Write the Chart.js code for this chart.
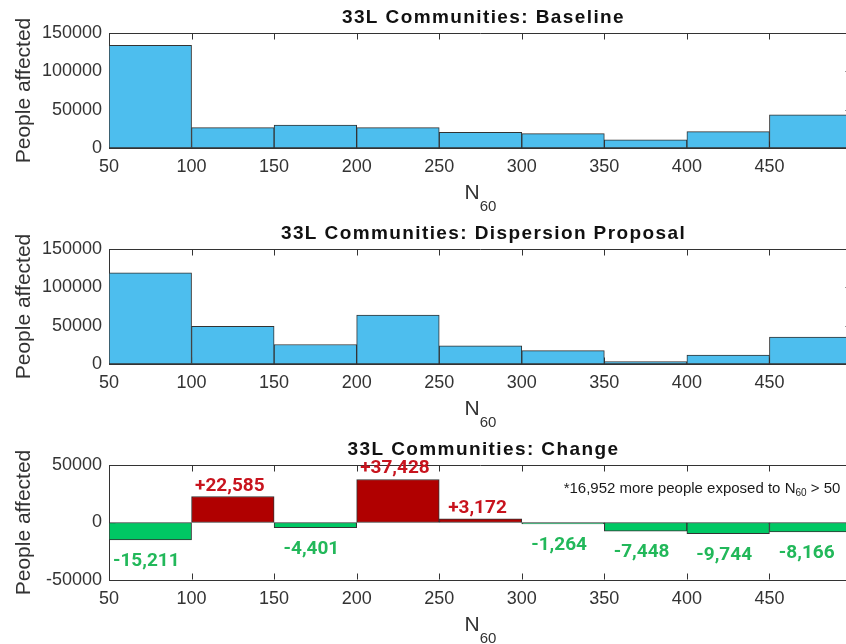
<!DOCTYPE html>
<html>
<head>
<meta charset="utf-8">
<script src="https://cdn.jsdelivr.net/npm/chart.js@4.4.1/dist/chart.umd.min.js"></script>
<style>
    html, body { margin: 0; padding: 0; background: #fff; }
    body { width: 846px; height: 644px; overflow: hidden; position: relative; }
    canvas { position: absolute; left: 0; }
</style>
</head>
<body>
<canvas id="chartBaseline" width="860" height="216" style="top:0px"></canvas>
<canvas id="chartProposal" width="860" height="216" style="top:216px"></canvas>
<canvas id="chartChange" width="860" height="216" style="top:432px"></canvas>
<script>
// bins of N60 (edges) and the x tick labels
const binEdges = [50, 100, 150, 200, 250, 300, 350, 400, 450, 500];
const xTickValues = [50, 100, 150, 200, 250, 300, 350, 400, 450];

// people affected per bin
const baselinePeople = [134000, 26600, 29800, 26500, 20500, 18800, 10500, 21400, 43300];
const proposalPeople = [118800, 49200, 25400, 63900, 23700, 17500, 3100, 11700, 35100];
const changePeople = [-15211, 22585, -4401, 37428, 3172, -1264, -7448, -9744, -8166];

// y tick labels
const countTicks = [0, 50000, 100000, 150000];
const changeTicks = [-50000, 0, 50000];

const panelTitles = [
    '33L Communities: Baseline',
    '33L Communities: Dispersion Proposal',
    '33L Communities: Change'
];
const noteParts = ['*16,952 more people exposed to ', 'N', '60', ' > 50'];

const axisColor = '#333333';
const textColor = '#333333';
const blue = '#4DBEEE';
const barRed = '#B00000';
const barGreen = '#00C864';
const labelRed = '#C8141E';
const labelGreen = '#22B85A';
const fontFamily = '"Liberation Sans", Arial, Helvetica, sans-serif';

function binPoints(values) {
    return values.map((v, i) => ({ x: (binEdges[i] + binEdges[i + 1]) / 2, y: v }));
}

// box, inward ticks, title and N60 label like a MATLAB axes
const matlabAxes = {
    id: 'matlabAxes',
    beforeDatasetsDraw(chart) {
        const { ctx, chartArea: a, scales: { x, y } } = chart;
        ctx.save();
        ctx.strokeStyle = axisColor;
        ctx.lineWidth = 1;
        ctx.beginPath();
        const top = Math.round(a.top) + 0.5;
        const bottom = Math.round(a.bottom) - 0.5;
        const left = Math.round(a.left) + 0.5;
        const right = Math.round(a.right) - 0.5;
        ctx.moveTo(a.left, top);
        ctx.lineTo(a.right, top);
        ctx.moveTo(right, a.top);
        ctx.lineTo(right, a.bottom);
        x.ticks.forEach(t => {
            if (t.value <= x.min || t.value >= x.max) return;
            const px = Math.round(x.getPixelForValue(t.value)) + 0.5;
            ctx.moveTo(px, top);
            ctx.lineTo(px, top + 6);
            ctx.moveTo(px, bottom);
            ctx.lineTo(px, bottom - 6);
        });
        y.ticks.forEach(t => {
            if (t.value <= y.min || t.value >= y.max) return;
            const py = Math.round(y.getPixelForValue(t.value)) + 0.5;
            ctx.moveTo(left, py);
            ctx.lineTo(left + 6, py);
            ctx.moveTo(right, py);
            ctx.lineTo(right - 6, py);
        });
        ctx.stroke();
        ctx.restore();
    },
    afterDraw(chart, args, opts) {
        const { ctx, chartArea: a } = chart;
        const cx = (a.left + a.right) / 2;
        ctx.save();
        ctx.fillStyle = '#111';
        ctx.font = 'bold 19px ' + fontFamily;
        ctx.letterSpacing = '1.4px';
        ctx.textAlign = 'center';
        ctx.textBaseline = 'middle';
        ctx.fillText(opts.title, cx + 3, a.top - 15);
        ctx.letterSpacing = '0px';

        // x label N with subscript 60
        ctx.fillStyle = textColor;
        ctx.textAlign = 'left';
        ctx.textBaseline = 'alphabetic';
        ctx.font = '21px ' + fontFamily;
        const wN = ctx.measureText('N').width;
        ctx.font = '15px ' + fontFamily;
        const wSub = ctx.measureText('60').width;
        const x0 = cx - (wN + wSub) / 2;
        ctx.font = '21px ' + fontFamily;
        ctx.fillText('N', x0, a.bottom + 51);
        ctx.font = '15px ' + fontFamily;
        ctx.fillText('60', x0 + wN, a.bottom + 63);
        ctx.restore();
    }
};

// value labels and note on the change panel
const changeLabels = {
    id: 'changeLabels',
    afterDatasetsDraw(chart) {
        const { ctx, chartArea: a } = chart;
        const meta = chart.getDatasetMeta(0);
        const values = chart.data.datasets[0].data;
        ctx.save();
        ctx.font = 'bold 19px Roboto, "DejaVu Sans", sans-serif';
        ctx.textAlign = 'center';
        ctx.textBaseline = 'alphabetic';
        meta.data.forEach((bar, i) => {
            const v = values[i].y;
            const txt = (v > 0 ? '+' : '-') + Math.abs(v).toLocaleString('en-US');
            if (v > 0) {
                ctx.fillStyle = labelRed;
                ctx.fillText(txt, bar.x - 3, bar.y - 6);
            } else {
                ctx.fillStyle = labelGreen;
                ctx.fillText(txt, bar.x - 4, bar.y + 26);
            }
        });

        // note, top right
        ctx.fillStyle = '#1a1a1a';
        ctx.textAlign = 'left';
        const big = '15px ' + fontFamily;
        const small = '10px ' + fontFamily;
        ctx.font = big;
        const w0 = ctx.measureText(noteParts[0]).width;
        const w1 = ctx.measureText(noteParts[1]).width;
        const w3 = ctx.measureText(noteParts[3]).width;
        ctx.font = small;
        const w2 = ctx.measureText(noteParts[2]).width;
        let nx = a.right - 150 - (w0 + w1 + w2 + w3) / 2;
        const ny = a.top + 28;
        ctx.font = big;
        ctx.fillText(noteParts[0], nx, ny); nx += w0;
        ctx.fillText(noteParts[1], nx, ny); nx += w1;
        ctx.font = small;
        ctx.fillText(noteParts[2], nx, ny + 3); nx += w2;
        ctx.font = big;
        ctx.fillText(noteParts[3], nx, ny);
        ctx.restore();
    }
};

function makePanel(canvasId, title, values, yTicks, colors, extraPlugins) {
    return new Chart(document.getElementById(canvasId), {
        type: 'bar',
        data: {
            datasets: [{
                data: binPoints(values),
                backgroundColor: colors,
                borderColor: axisColor,
                borderWidth: 1,
                borderSkipped: false,
                barPercentage: 1,
                categoryPercentage: 1
            }]
        },
        options: {
            responsive: false,
            animation: false,
            layout: { padding: { top: 33, left: 10, right: 8, bottom: 0 } },
            plugins: {
                legend: { display: false },
                tooltip: { enabled: false },
                matlabAxes: { title: title }
            },
            scales: {
                x: {
                    type: 'linear',
                    min: binEdges[0],
                    max: binEdges[binEdges.length - 1],
                    offset: false,
                    grid: { display: false, drawTicks: false, offset: false },
                    border: { display: true, color: axisColor, width: 1 },
                    afterBuildTicks: s => { s.ticks = xTickValues.map(v => ({ value: v })); },
                    afterFit: s => { s.height = 68; },
                    ticks: {
                        color: textColor,
                        padding: 8,
                        maxRotation: 0,
                        font: { family: fontFamily, size: 18 },
                        callback: v => String(v)
                    }
                },
                y: {
                    min: yTicks[0],
                    max: yTicks[yTicks.length - 1],
                    grid: { display: false, drawTicks: false },
                    border: { display: true, color: axisColor, width: 1 },
                    afterBuildTicks: s => { s.ticks = yTicks.map(v => ({ value: v })); },
                    afterFit: s => { s.width = 99; },
                    title: {
                        display: true,
                        text: 'People affected',
                        color: textColor,
                        padding: { top: 2, bottom: 0 },
                        font: { family: fontFamily, size: 21 }
                    },
                    ticks: {
                        color: textColor,
                        padding: 7,
                        font: { family: fontFamily, size: 18 },
                        callback: v => String(v)
                    }
                }
            }
        },
        plugins: [matlabAxes].concat(extraPlugins || [])
    });
}

makePanel('chartBaseline', panelTitles[0], baselinePeople, countTicks, blue);
makePanel('chartProposal', panelTitles[1], proposalPeople, countTicks, blue);
makePanel('chartChange', panelTitles[2], changePeople, changeTicks,
    changePeople.map(v => (v > 0 ? barRed : barGreen)), [changeLabels]);
</script>
</body>
</html>
